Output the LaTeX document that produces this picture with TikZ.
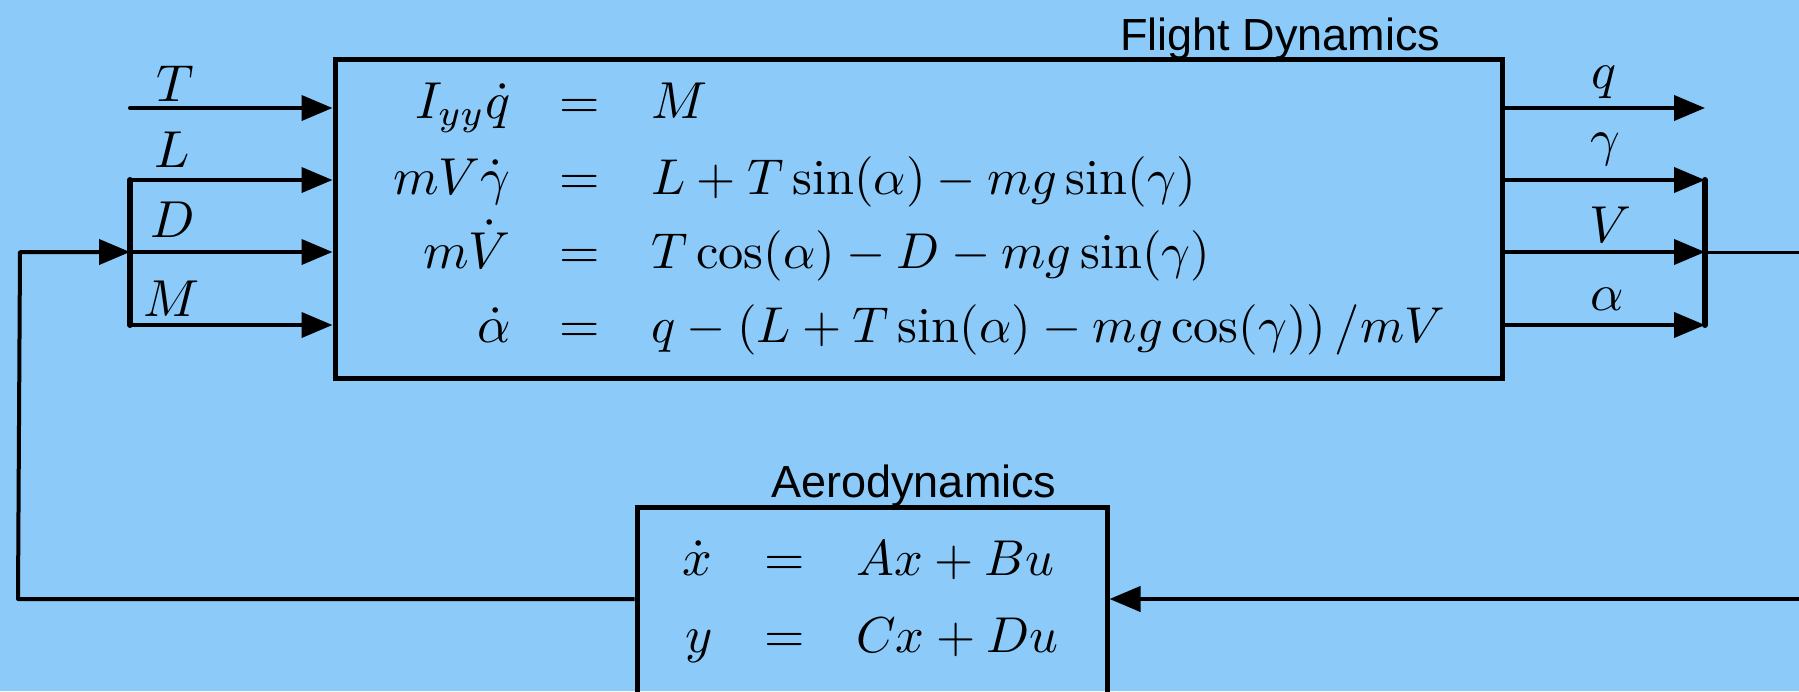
\documentclass[tikz,border=0pt]{standalone}
\usepackage{fontspec}
\usepackage{graphicx}
\newfontfamily\labelsans{Liberation Sans}
\usetikzlibrary{arrows.meta}
\definecolor{bgblue}{RGB}{139,202,249}
\newcommand\EQmath[1]{\scalebox{2.6}{$#1$}}
\newcommand\EQlong[1]{\scalebox{2.52}{$#1$}}
\tikzset{
  blockbox/.style={draw=black, line width=2.5pt, inner sep=0pt},
  sig/.style={line width=2pt, -{Triangle[length=15.5pt,width=12.5pt]}},
  busline/.style={line width=3pt, line cap=round},
  thinsig/.style={line width=1.5pt},
  eqtxt/.style={inner sep=0pt},
  boxtitle/.style={inner sep=0pt, anchor=base west, font=\labelsans\fontsize{22.5}{27}\selectfont}
}
\begin{document}
\begin{tikzpicture}[x=0.5pt, y=-0.5pt]
\clip (0,0) rectangle (1799,691);
\fill[bgblue] (0,0) rectangle (1799,691);

% blocks
\node[blockbox, minimum width=583.5pt, minimum height=159.5pt] (fd) at (918.5,218.5) {};
\node[blockbox, minimum width=235pt, minimum height=130pt] (aero) at (872,637) {};

% titles
\node[boxtitle] (fdtitle) at (1120,50) {Flight Dynamics};
\node[boxtitle] (aerotitle) at (771,497) {Aerodynamics};

% flight dynamics equations
\node[eqtxt, anchor=base east] (fl1) at (511,118) {\EQmath{I_{yy}\dot{q}}};
\node[eqtxt, anchor=base] (fe1) at (580,118) {\EQmath{=}};
\node[eqtxt, anchor=base west] (fr1) at (651,118) {\EQmath{M}};
\node[eqtxt, anchor=base east] (fl2) at (511,194) {\EQmath{mV\dot{\gamma}}};
\node[eqtxt, anchor=base] (fe2) at (580,194) {\EQmath{=}};
\node[eqtxt, anchor=base west] (fr2) at (651,194) {\EQlong{L+T\sin(\alpha)-mg\sin(\gamma)}};
\node[eqtxt, anchor=base east] (fl3) at (511,268) {\EQmath{m\dot{V}}};
\node[eqtxt, anchor=base] (fe3) at (580,268) {\EQmath{=}};
\node[eqtxt, anchor=base west] (fr3) at (651,268) {\EQlong{T\cos(\alpha)-D-mg\sin(\gamma)}};
\node[eqtxt, anchor=base east] (fl4) at (511,342) {\EQmath{\dot{\alpha}}};
\node[eqtxt, anchor=base] (fe4) at (580,342) {\EQmath{=}};
\node[eqtxt, anchor=base west] (fr4) at (651,342) {\EQlong{q-\left(L+T\sin(\alpha)-mg\cos(\gamma)\right)/mV}};

% aerodynamics equations
\node[eqtxt, anchor=base east] (al1) at (713,575) {\EQmath{\dot{x}}};
\node[eqtxt, anchor=base] (ae1) at (785,575) {\EQmath{=}};
\node[eqtxt, anchor=base west] (ar1) at (856,575) {\EQlong{Ax+Bu}};
\node[eqtxt, anchor=base east] (al2) at (713,652) {\EQmath{y}};
\node[eqtxt, anchor=base] (ae2) at (785,652) {\EQmath{=}};
\node[eqtxt, anchor=base west] (ar2) at (856,652) {\EQlong{Cx+Du}};

% input labels
\node[eqtxt, anchor=base] (lT) at (175,101) {\EQmath{T}};
\node[eqtxt, anchor=base] (lL) at (172,167) {\EQmath{L}};
\node[eqtxt, anchor=base] (lD) at (173,237) {\EQmath{D}};
\node[eqtxt, anchor=base] (lM) at (172,316) {\EQmath{M}};
% output labels
\node[eqtxt, anchor=base] (lq) at (1604,88) {\EQmath{q}};
\node[eqtxt, anchor=base] (lg) at (1605,155) {\EQmath{\gamma}};
\node[eqtxt, anchor=base] (lV) at (1610,242) {\EQmath{V}};
\node[eqtxt, anchor=base] (la) at (1607,310) {\EQmath{\alpha}};

% coordinates
\coordinate (tin) at (130,108);
\coordinate (bl1) at (130,180);
\coordinate (bl2) at (130,252);
\coordinate (bl3) at (130,325);
\coordinate (fbtop) at (20,252);
\coordinate (fbbot) at (18,599);
\coordinate (qout) at (1705,108);
\coordinate (br1) at (1705,180);
\coordinate (br2) at (1705,252);
\coordinate (br3) at (1705,325);
\coordinate (rightexit) at (1820,252);
\coordinate (rightret) at (1820,599);

% inputs
\draw[sig, line cap=round] (tin) -- (fd.west |- tin);
\draw[sig] (bl1) -- (fd.west |- bl1);
\draw[sig] (bl2) -- (fd.west |- bl2);
\draw[sig] (bl3) -- (fd.west |- bl3);
\draw[busline] (bl1) -- (bl3);

% outputs
\draw[sig] (fd.east |- qout) -- (qout);
\draw[sig] (fd.east |- br1) -- (br1);
\draw[sig] (fd.east |- br2) -- (br2);
\draw[sig] (fd.east |- br3) -- (br3);
\draw[busline] (br1) -- (br3);
\draw[thinsig] (br2) -- (rightexit);

% feedback loop
\draw[sig] (rightret) -- (aero.east |- rightret);
\draw[sig, line join=round] (aero.west |- fbbot) -- (fbbot) -- (fbtop) -- (bl2);
\end{tikzpicture}
\end{document}
